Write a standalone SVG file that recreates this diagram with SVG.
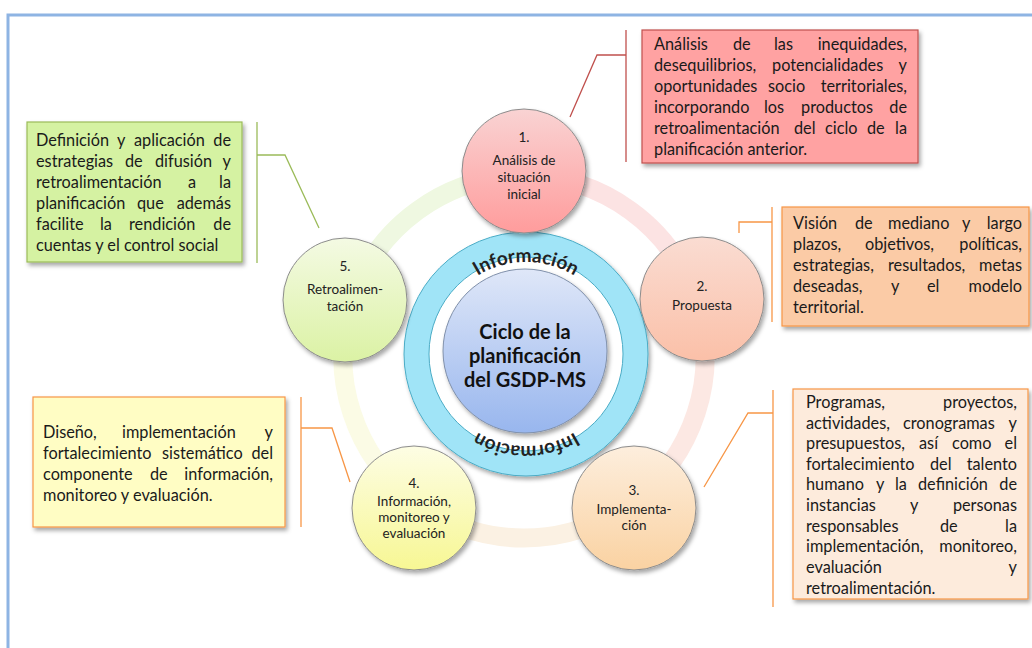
<svg xmlns="http://www.w3.org/2000/svg" width="1032" height="648" viewBox="0 0 1032 648">
<defs>
<style>
.t{font-family:Lato,"Liberation Sans",sans-serif;font-size:16.3px;fill:#1a1a1a}
.r{font-family:Lato,"Liberation Sans",sans-serif;font-size:16.3px;fill:#1a1a1a;text-anchor:end}
.c{font-family:Lato,"Liberation Sans",sans-serif;font-size:13.5px;fill:#222;text-anchor:middle}
.ctr{font-family:Lato,"Liberation Sans",sans-serif;font-size:20px;font-weight:bold;fill:#111;text-anchor:middle}
.inf{font-family:Lato,"Liberation Sans",sans-serif;font-size:19px;font-weight:bold;fill:#222}
.node{stroke:#8c8c8c;stroke-width:1;filter:url(#sh)}
.box{stroke-width:1.2;filter:url(#sh)}
.ln{fill:none;stroke-width:1.3}
.arc{fill:none;stroke-width:19}
</style>
<filter id="sh" x="-10%" y="-10%" width="130%" height="130%"><feDropShadow dx="2" dy="3" stdDeviation="2" flood-color="#000" flood-opacity="0.35"/></filter>
<linearGradient id="g1" x1="0" y1="0" x2="0" y2="1"><stop offset="0" stop-color="#F9D3D3"/><stop offset="1" stop-color="#FF9C9C"/></linearGradient>
<linearGradient id="g2" x1="0" y1="0" x2="0" y2="1"><stop offset="0" stop-color="#FADCD2"/><stop offset="1" stop-color="#FBC0A8"/></linearGradient>
<linearGradient id="g3" x1="0" y1="0" x2="0" y2="1"><stop offset="0" stop-color="#FDEEDD"/><stop offset="1" stop-color="#FAD2A2"/></linearGradient>
<linearGradient id="g4" x1="0" y1="0" x2="0" y2="1"><stop offset="0" stop-color="#FDFDE4"/><stop offset="1" stop-color="#F7F794"/></linearGradient>
<linearGradient id="g5" x1="0" y1="0" x2="0" y2="1"><stop offset="0" stop-color="#F4FAE3"/><stop offset="1" stop-color="#DBF2A4"/></linearGradient>
<linearGradient id="gc" x1="0" y1="0" x2="0" y2="1"><stop offset="0" stop-color="#DFE7F8"/><stop offset="1" stop-color="#98B6EE"/></linearGradient>
<path id="topArc" d="M 434 354 A 92 92 0 0 1 618 354"/>
<path id="botArc" d="M 618 354 A 92 92 0 0 1 434 354"/>
</defs>
<rect width="1032" height="648" fill="#fff"/>
<path d="M 8 660 L 8 15 L 1040 15" fill="none" stroke="#8EB4E3" stroke-width="3"/>

<g id="connectors">
<path class="arc" stroke="#EFF8E1" d="M 351.85 301.07 A 181 181 0 0 1 524 176"/>
<path class="arc" stroke="#FCE3E3" d="M 524 176 A 181 181 0 0 1 696.15 301.07"/>
<path class="arc" stroke="#FCE8E3" d="M 696.15 301.07 A 181 181 0 0 1 630.39 503.43"/>
<path class="arc" stroke="#FBF1E3" d="M 630.39 503.43 A 181 181 0 0 1 417.61 503.43"/>
<path class="arc" stroke="#FBFBE5" d="M 417.61 503.43 A 181 181 0 0 1 351.85 301.07"/>
<g stroke="#C0504D" class="ln"><path d="M 626 30 L 626 162"/><path d="M 626 55 L 597 55 L 570 117"/></g>
<g stroke="#F79646" class="ln"><path d="M 772 207 L 772 322"/><path d="M 772 222 L 739 222 L 739 233"/></g>
<g stroke="#F79646" class="ln"><path d="M 773 390 L 773 607"/><path d="M 773 413 L 748 413 L 704 487"/></g>
<g stroke="#F79646" class="ln"><path d="M 301 397 L 301 527"/><path d="M 301 428 L 332 428 L 350 482"/></g>
<g stroke="#9BBB59" class="ln"><path d="M 257 122 L 257 263"/><path d="M 257 155 L 285 155 L 319 228"/></g>
</g>

<g id="center">
<circle cx="526" cy="354" r="122" fill="#A0E4F7" stroke="#4BACC6" stroke-width="1" filter="url(#sh)"/>
<circle cx="526" cy="354" r="97" fill="#fff" stroke="#4BACC6" stroke-width="1"/>
<circle cx="525" cy="351" r="82" fill="url(#gc)" stroke="#8090AA" stroke-width="1" filter="url(#sh)"/>
<text class="inf"><textPath href="#topArc" startOffset="50%" text-anchor="middle">Información</textPath></text>
<text class="inf"><textPath href="#botArc" startOffset="50%" text-anchor="middle">Información</textPath></text>
<text class="ctr" x="525" y="339">Ciclo de la</text>
<text class="ctr" x="525" y="363">planificación</text>
<text class="ctr" x="525" y="387">del GSDP-MS</text>
</g>

<g id="node1">
<circle class="node" cx="524" cy="171" r="62" fill="url(#g1)"/>
<text class="c" x="524" y="142">1.</text>
<text class="c" x="524" y="165">Análisis de</text>
<text class="c" x="524" y="182">situación</text>
<text class="c" x="524" y="199">inicial</text>
</g>
<g id="node2">
<circle class="node" cx="702" cy="299" r="62" fill="url(#g2)"/>
<text class="c" x="702" y="291">2.</text>
<text class="c" x="702" y="310">Propuesta</text>
</g>
<g id="node3">
<circle class="node" cx="634" cy="508" r="62" fill="url(#g3)"/>
<text class="c" x="634" y="495">3.</text>
<text class="c" x="634" y="514">Implementa-</text>
<text class="c" x="634" y="530">ción</text>
</g>
<g id="node4">
<circle class="node" cx="414" cy="508" r="62" fill="url(#g4)"/>
<text class="c" x="414" y="488">4.</text>
<text class="c" x="414" y="506">Información,</text>
<text class="c" x="414" y="522">monitoreo y</text>
<text class="c" x="414" y="538">evaluación</text>
</g>
<g id="node5">
<circle class="node" cx="345" cy="300" r="62" fill="url(#g5)"/>
<text class="c" x="345" y="271">5.</text>
<text class="c" x="345" y="294">Retroalimen-</text>
<text class="c" x="345" y="311">tación</text>
</g>

<g id="box1">
<rect class="box" x="642" y="30" width="276" height="133" fill="#FFA2A2" stroke="#C0504D"/>
<text class="t" y="50"><tspan x="654">Análisis</tspan><tspan x="733">de</tspan><tspan x="774">las</tspan></text><text class="r" x="907" y="50">inequidades,</text>
<text class="t" y="71"><tspan x="654">desequilibrios,</tspan><tspan x="772">potencialidades</tspan></text><text class="r" x="907" y="71">y</text>
<text class="t" y="92"><tspan x="654">oportunidades</tspan><tspan x="768">socio</tspan></text><text class="r" x="907" y="92">territoriales,</text>
<text class="t" y="113"><tspan x="654">incorporando</tspan><tspan x="764">los</tspan><tspan x="801">productos</tspan></text><text class="r" x="907" y="113">de</text>
<text class="t" y="134"><tspan x="654">retroalimentación</tspan><tspan x="794">del</tspan><tspan x="825">ciclo</tspan><tspan x="867">de</tspan></text><text class="r" x="907" y="134">la</text>
<text class="t" x="654" y="155">planificación anterior.</text>
</g>

<g id="box2">
<rect class="box" x="782" y="207" width="247" height="119" fill="#FBCBA6" stroke="#F79646"/>
<text class="t" y="229"><tspan x="793">Visión</tspan><tspan x="855">de</tspan><tspan x="888">mediano</tspan><tspan x="962">y</tspan></text><text class="r" x="1022" y="229">largo</text>
<text class="t" y="250"><tspan x="793">plazos,</tspan><tspan x="865">objetivos,</tspan></text><text class="r" x="1022" y="250">políticas,</text>
<text class="t" y="271"><tspan x="793">estrategias,</tspan><tspan x="888">resultados,</tspan></text><text class="r" x="1022" y="271">metas</text>
<text class="t" y="292"><tspan x="793">deseadas,</tspan><tspan x="891">y</tspan><tspan x="927">el</tspan></text><text class="r" x="1022" y="292">modelo</text>
<text class="t" x="793" y="313">territorial.</text>
</g>

<g id="box3">
<rect class="box" x="793" y="389" width="235" height="210" fill="#FDEBDC" stroke="#F79646"/>
<text class="t" x="806" y="408">Programas,</text><text class="r" x="1017" y="408">proyectos,</text>
<text class="t" y="429"><tspan x="806">actividades,</tspan><tspan x="903">cronogramas</tspan></text><text class="r" x="1017" y="429">y</text>
<text class="t" y="449"><tspan x="806">presupuestos,</tspan><tspan x="919">así</tspan><tspan x="952">como</tspan></text><text class="r" x="1017" y="449">el</text>
<text class="t" y="470"><tspan x="806">fortalecimiento</tspan><tspan x="930">del</tspan></text><text class="r" x="1017" y="470">talento</text>
<text class="t" y="490"><tspan x="806">humano</tspan><tspan x="876">y</tspan><tspan x="895">la</tspan><tspan x="918">definición</tspan></text><text class="r" x="1017" y="490">de</text>
<text class="t" y="511"><tspan x="806">instancias</tspan><tspan x="910">y</tspan></text><text class="r" x="1017" y="511">personas</text>
<text class="t" y="532"><tspan x="806">responsables</tspan><tspan x="940">de</tspan></text><text class="r" x="1017" y="532">la</text>
<text class="t" x="806" y="552">implementación,</text><text class="r" x="1017" y="552">monitoreo,</text>
<text class="t" x="806" y="573">evaluación</text><text class="r" x="1017" y="573">y</text>
<text class="t" x="806" y="594">retroalimentación.</text>
</g>

<g id="box4">
<rect class="box" x="33" y="397" width="252" height="130" fill="#FFFDC4" stroke="#F79646"/>
<text class="t" y="438"><tspan x="43">Diseño,</tspan><tspan x="122">implementación</tspan></text><text class="r" x="273" y="438">y</text>
<text class="t" y="459"><tspan x="43">fortalecimiento</tspan><tspan x="162">sistemático</tspan></text><text class="r" x="273" y="459">del</text>
<text class="t" y="480"><tspan x="43">componente</tspan><tspan x="150">de</tspan></text><text class="r" x="273" y="480">información,</text>
<text class="t" x="43" y="501">monitoreo y evaluación.</text>
</g>

<g id="box5">
<rect class="box" x="27" y="122" width="215" height="140" fill="#D5F2A2" stroke="#9BBB59"/>
<text class="t" y="146"><tspan x="36">Definición</tspan><tspan x="117">y</tspan><tspan x="134">aplicación</tspan></text><text class="r" x="231" y="146">de</text>
<text class="t" y="167"><tspan x="36">estrategias</tspan><tspan x="125">de</tspan><tspan x="155">difusión</tspan></text><text class="r" x="231" y="167">y</text>
<text class="t" y="188"><tspan x="36">retroalimentación</tspan><tspan x="188">a</tspan></text><text class="r" x="231" y="188">la</text>
<text class="t" y="209"><tspan x="36">planificación</tspan><tspan x="137">que</tspan></text><text class="r" x="231" y="209">además</text>
<text class="t" y="230"><tspan x="36">facilite</tspan><tspan x="100">la</tspan><tspan x="129">rendición</tspan></text><text class="r" x="231" y="230">de</text>
<text class="t" x="36" y="251">cuentas y el control social</text>
</g>
</svg>
